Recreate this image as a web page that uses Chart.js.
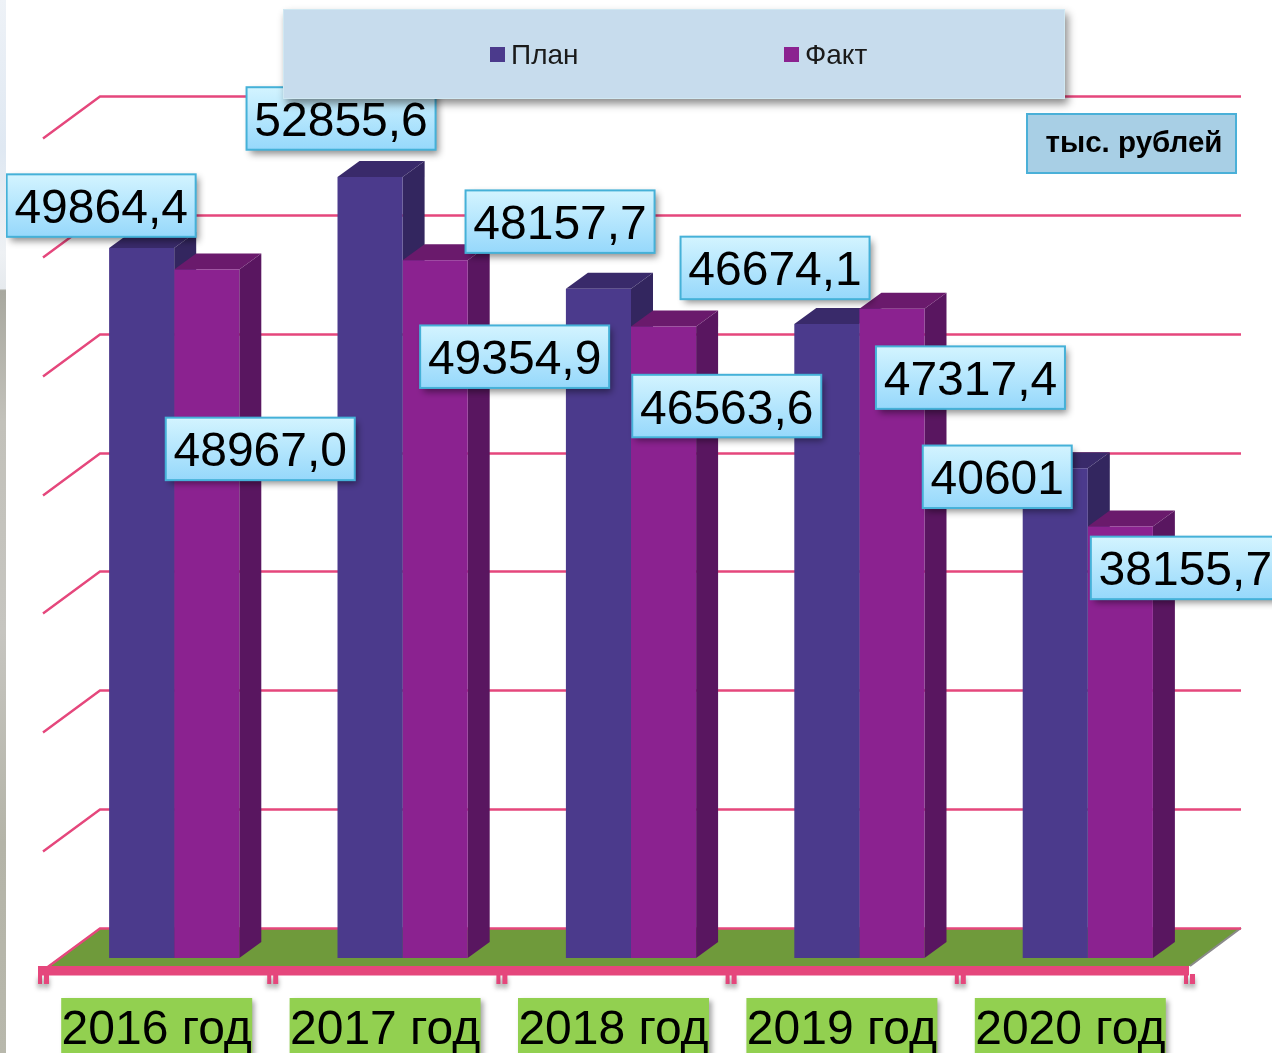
<!DOCTYPE html>
<html><head><meta charset="utf-8">
<style>html,body{margin:0;padding:0;background:#fff;overflow:hidden}
canvas{display:block}
#strip{position:fixed;left:0;top:0;width:6px;height:1053px;background:linear-gradient(180deg,#eef2f7 0,#dfe8f2 14%,#eef1f4 24%,#e6eaee 27.4%,#a8a89f 27.6%,#c2c1ba 40%,#c6c5c0 60%,#b4b4a8 80%,#b8b8ac 100%)}</style>
</head><body><canvas id="c" width="1272" height="1053"></canvas><div id="strip"></div>
<script src="https://cdn.jsdelivr.net/npm/chart.js@4"></script>
<script>
const categories = ['2016 год','2017 год','2018 год','2019 год','2020 год'];
const planValues = [49864.4,52855.6,48157.7,46674.1,40601];
const factValues = [48967.0,49354.9,46563.6,47317.4,38155.7];
const planLabels = ['49864,4','52855,6','48157,7','46674,1','40601'];
const factLabels = ['48967,0','49354,9','46563,6','47317,4','38155,7'];
const seriesNames = ['План','Факт'];
const unitLabel = 'тыс. рублей';

const labelOffsets = [
 [[-40.5,-42.5],[-29,-58.5],[-38.4,-67],[-51.8,-56],[-58,8.5]],
 [[53.5,179.5],[79.5,96.5],[63.2,79.5],[78.5,69],[65,41.5]]
];
const FACES = [
 {front:'#4b3a8c',side:'#33265f',top:'#392a6a'},
 {front:'#8b2290',side:'#591660',top:'#6a1a6c'}
];
const PINK='#e5477c', FONT='"Liberation Sans",Arial,sans-serif';
const D={dx:22,dy:-16};

function shadowOn(ctx,b=6,ox=2,oy=4,c='rgba(0,0,0,.45)'){ctx.shadowColor=c;ctx.shadowBlur=b;ctx.shadowOffsetX=ox;ctx.shadowOffsetY=oy;}
function poly(ctx,pts,fill){ctx.beginPath();pts.forEach((p,i)=>i?ctx.lineTo(p[0],p[1]):ctx.moveTo(p[0],p[1]));ctx.closePath();ctx.fillStyle=fill;ctx.fill();}

const scene={id:'scene',
 beforeDatasetsDraw(chart){
  const {ctx,scales:{x,y},chartArea:a}=chart;
  const base=y.getPixelForValue(y.min);
  ctx.save();
  // floor
  const fl=[[a.left+40,base-30],[a.right+39,base-30],[a.right-12,base+8],[a.left-12,base+8]];
  poly(ctx,fl,'#6f9a3b');
  ctx.strokeStyle='#8a8a8a';ctx.lineWidth=2;ctx.beginPath();ctx.moveTo(fl[1][0],fl[1][1]);ctx.lineTo(fl[2][0],fl[2][1]);ctx.stroke();
  // gridlines on back and side walls
  ctx.strokeStyle=PINK;ctx.lineWidth=2.4;
  y.ticks.forEach(t=>{
    const py=Math.round(y.getPixelForValue(t.value)-30)+0.5;
    ctx.beginPath();ctx.moveTo(a.left-17,py+42);ctx.lineTo(a.left+40,py);ctx.lineTo(a.right+39,py);ctx.stroke();
  });
  // axis band and ticks
  const x0=a.left-22,x1=a.right-13,yb=base+8;
  ctx.save();shadowOn(ctx,5,0,4,'rgba(0,0,0,.4)');
  const step=(x1-x0-5)/categories.length;
  ctx.fillStyle=PINK;
  for(let i=0;i<=categories.length;i++){
    const tx=x0+i*step;
    ctx.fillRect(tx,yb+8,4,10);ctx.fillRect(tx+6,yb+8,5,10);
  }
  ctx.restore();
  ctx.fillStyle=PINK;ctx.fillRect(x0,yb,x1-x0,9.5);
  // 3D side and top faces, computed from the bar elements
  chart.data.datasets.forEach((ds,di)=>{
   const f=FACES[di];
   chart.getDatasetMeta(di).data.forEach(el=>{
     const cx=el.x,ty=el.y,by=base,w=el.width;
     const l=cx-w/2,r=cx+w/2;
     poly(ctx,[[r,ty],[r+D.dx,ty+D.dy],[r+D.dx,by+D.dy],[r,by]],f.side);
     poly(ctx,[[l,ty],[l+D.dx,ty+D.dy],[r+D.dx,ty+D.dy],[r,ty]],f.top);
   });
  });
  ctx.restore();
 },
 afterDatasetsDraw(chart){
  const {ctx,scales:{x,y},chartArea:a}=chart;
  ctx.save();
  ctx.textBaseline='alphabetic';
  // value label boxes
  const texts=[planLabels,factLabels];
  chart.data.datasets.forEach((ds,di)=>{
   chart.getDatasetMeta(di).data.forEach((el,i)=>{
    const [ox,oy]=labelOffsets[di][i];
    const cx=el.x+ox,cy=el.y+oy;
    ctx.font='48px '+FONT;
    const tw=ctx.measureText(texts[di][i]).width;
    const w=tw+15.5,h=62.5;
    const bx=cx-w/2,by=cy-h/2;
    const g=ctx.createLinearGradient(0,by,0,by+h);
    g.addColorStop(0,'#d3f4ff');g.addColorStop(1,'#96d8fb');
    ctx.save();shadowOn(ctx,7,3,4,'rgba(0,0,0,.45)');
    ctx.fillStyle=g;ctx.fillRect(bx,by,w,h);ctx.restore();
    ctx.strokeStyle='#45b1d8';ctx.lineWidth=2;ctx.strokeRect(bx,by,w,h);
    ctx.fillStyle='#000';ctx.textAlign='center';
    ctx.fillText(texts[di][i],cx,cy+17.5);
   });
  });
  // category labels in green boxes
  categories.forEach((c,i)=>{
    const cx=x.getPixelForTick(i)-17.5;
    const w=191,h=60,by=a.bottom+40;
    ctx.save();shadowOn(ctx,5,3,3,'rgba(0,0,0,.35)');
    ctx.fillStyle='#92d050';ctx.fillRect(cx-w/2,by,w,h);ctx.restore();
    ctx.fillStyle='#000';ctx.textAlign='center';ctx.font='48px '+FONT;
    ctx.fillText(c,cx,by+46);
  });
  // unit box
  ctx.fillStyle='#a8cfe5';ctx.fillRect(1027,114,209,59);
  ctx.strokeStyle='#4ab0d8';ctx.lineWidth=2;ctx.strokeRect(1027,114,209,59);
  ctx.fillStyle='#000';ctx.font='bold 29.5px '+FONT;ctx.textAlign='center';
  ctx.fillText(unitLabel,1134,152);
  // legend
  ctx.save();shadowOn(ctx,8,3,5,'rgba(0,0,0,.45)');
  ctx.fillStyle='#c7dced';ctx.fillRect(283,9,782,90);ctx.restore();
  ctx.strokeStyle='#d0e8f2';ctx.lineWidth=1;ctx.strokeRect(283.5,9.5,781,89);
  const lx=[490,784];
  seriesNames.forEach((n,i)=>{
    ctx.fillStyle=FACES[i].front;ctx.fillRect(lx[i],47,15,15);
    ctx.fillStyle='#1a1a1a';ctx.textAlign='left';ctx.font='28px '+FONT;
    ctx.fillText(n,lx[i]+21,64);
  });
  ctx.restore();
 }
};

new Chart(document.getElementById('c'),{
 type:'bar',
 data:{labels:categories,datasets:[
  {label:seriesNames[0],data:planValues,backgroundColor:FACES[0].front,borderWidth:0},
  {label:seriesNames[1],data:factValues,backgroundColor:FACES[1].front,borderWidth:0}
 ]},
 options:{
  responsive:false,animation:false,
  layout:{padding:{left:60,right:70,top:126,bottom:95}},
  datasets:{bar:{categoryPercentage:0.57,barPercentage:1}},
  plugins:{legend:{display:false},tooltip:{enabled:false},title:{display:false}},
  scales:{
   x:{display:false,grid:{display:false}},
   y:{display:false,min:20000,max:55000,ticks:{stepSize:5000},grid:{display:false}}
  }
 },
 plugins:[scene]
});
</script></body></html>
